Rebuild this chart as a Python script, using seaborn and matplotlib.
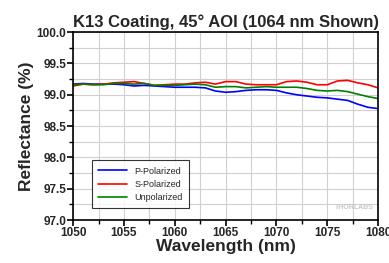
import numpy as np
import pandas as pd
import seaborn as sns
import matplotlib.pyplot as plt
from matplotlib.ticker import MultipleLocator

# data
wavelength = list(range(1050, 1081))
p_pol = [99.17, 99.18, 99.17, 99.17, 99.17, 99.16, 99.14, 99.15, 99.14, 99.13,
         99.12, 99.12, 99.12, 99.11, 99.06, 99.04, 99.05, 99.07, 99.08, 99.08,
         99.07, 99.03, 99.00, 98.98, 98.96, 98.95, 98.93, 98.91, 98.85, 98.80, 98.78]
s_pol = [99.14, 99.17, 99.16, 99.17, 99.19, 99.20, 99.21, 99.18, 99.15, 99.16,
         99.17, 99.17, 99.19, 99.20, 99.17, 99.21, 99.21, 99.17, 99.16, 99.16,
         99.16, 99.21, 99.22, 99.20, 99.16, 99.16, 99.22, 99.23, 99.19, 99.16, 99.11]
unpol = [99.16, 99.17, 99.16, 99.16, 99.18, 99.18, 99.17, 99.18, 99.15, 99.15,
         99.15, 99.16, 99.17, 99.16, 99.12, 99.13, 99.13, 99.11, 99.12, 99.13,
         99.12, 99.12, 99.12, 99.10, 99.07, 99.06, 99.07, 99.05, 99.01, 98.97, 98.94]

series = ["P-Polarized", "S-Polarized", "Unpolarized"]
colors = ["#0000ff", "#ff0000", "#008000"]

df = pd.concat([
    pd.DataFrame({"wl": wavelength, "R": vals, "series": name})
    for name, vals in zip(series, [p_pol, s_pol, unpol])
])

sns.set_style("white")
plt.rcParams["font.family"] = ["Liberation Sans", "DejaVu Sans"]

fig = plt.figure(figsize=(3.89, 2.63), dpi=100)
ax = fig.add_axes([0.188, 0.163, 0.784, 0.715])

sns.lineplot(data=df, x="wl", y="R", hue="series", palette=colors,
             linewidth=1.2, ax=ax)

ax.set_xlim(1050, 1080)
ax.set_ylim(97.0, 100.0)
ax.xaxis.set_major_locator(MultipleLocator(5))
ax.xaxis.set_minor_locator(MultipleLocator(2.5))
ax.yaxis.set_major_locator(MultipleLocator(0.5))
ax.yaxis.set_minor_locator(MultipleLocator(0.25))
ax.yaxis.set_major_formatter(plt.FormatStrFormatter("%.1f"))
ax.grid(True, which="both", color="#d0d0d0", linewidth=0.8)
ax.set_axisbelow(True)
for s in ax.spines.values():
    s.set_color("black")
    s.set_linewidth(1.2)
ax.tick_params(which="both", direction="out", color="black", left=True, bottom=True)
ax.tick_params(which="major", length=4, width=1.2, labelsize=8.5, pad=1)
ax.tick_params(which="minor", length=3, width=1)
for lab in ax.get_xticklabels() + ax.get_yticklabels():
    lab.set_fontweight("bold")

ax.set_title("K13 Coating, 45° AOI (1064 nm Shown)", fontsize=12, fontweight="bold", pad=4)
ax.set_xlabel("Wavelength (nm)", fontsize=12.5, fontweight="bold", labelpad=0)
ax.set_ylabel("Reflectance (%)", fontsize=12.5, fontweight="bold", labelpad=2)

leg = ax.legend(loc="lower left", bbox_to_anchor=(0.062, 0.064), fontsize=6.5,
                frameon=True, fancybox=False, handlelength=3.2, borderpad=0.7,
                labelspacing=0.45, borderaxespad=0)
leg.get_frame().set_edgecolor("black")
leg.get_frame().set_linewidth(0.8)

ax.text(0.985, 0.05, "THORLABS", transform=ax.transAxes, ha="right",
        va="bottom", fontsize=5, color="#c8c8c8", fontweight="bold")

fig.savefig("out.png", dpi=100)
